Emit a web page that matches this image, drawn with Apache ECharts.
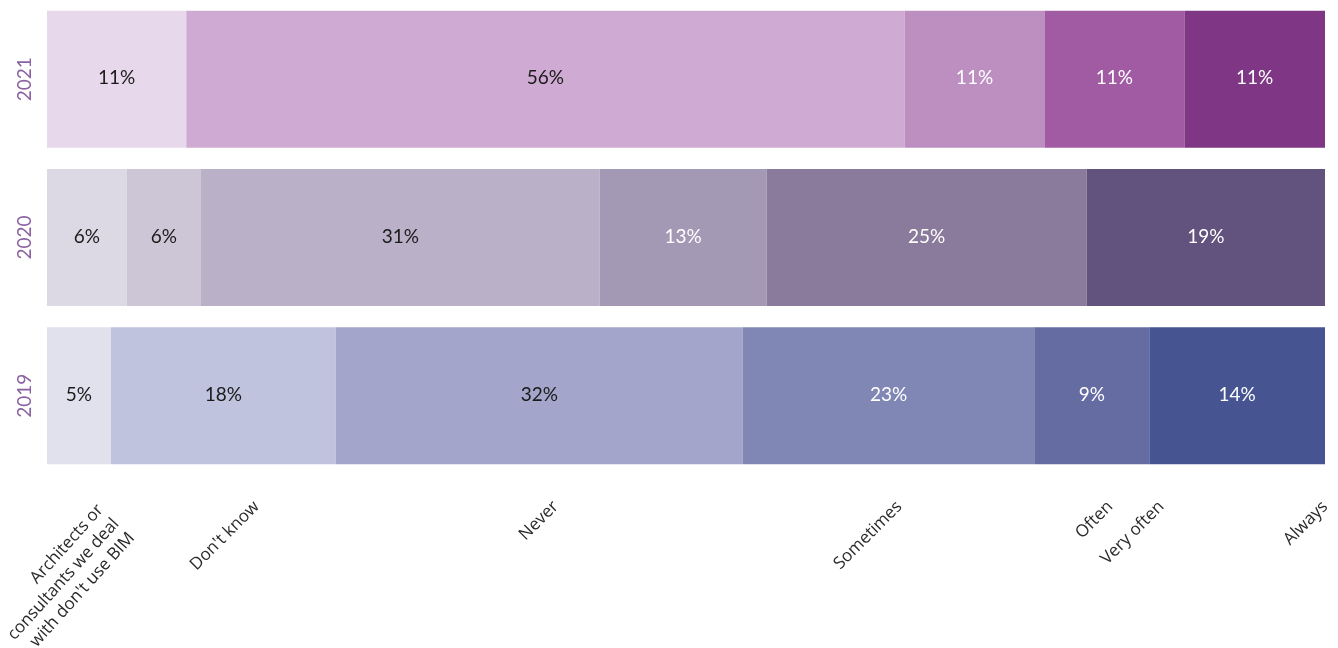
<!DOCTYPE html>
<html>
<head>
<meta charset="utf-8">
<script src="https://cdn.jsdelivr.net/npm/echarts@6/dist/echarts.min.js"></script>
<style>
html,body{margin:0;padding:0;background:#fff;}
#chart{width:1338px;height:648px;}
</style>
</head>
<body>
<div id="chart"></div>
<script>
// ---- data ----
const years = ['2019', '2020', '2021'];
const values2019 = [5.0, 17.6, 31.85, 22.8, 9.0, 13.75];
const values2020 = [6.25, 5.8, 31.2, 13.05, 25.05, 18.65];
const values2021 = [10.9, 56.2, 10.95, 10.95, 11.0];
const categoryLabels = ["Don't know", 'Never', 'Sometimes', 'Often', 'Very often', 'Always'];
const categoryLabelAt = [16.4, 39.8, 66.7, 83.2, 87.2, 100];
const firstCategoryLabel = "Architects or\nconsultants we deal\nwith don't use BIM";
const firstCategoryLabelAt = [5.4];

// ---- styles ----
const colors2019 = ['#e1e1ee', '#bfc3de', '#a3a6ca', '#8187b5', '#646ca2', '#465592'];
const colors2020 = ['#dcd9e4', '#cdc6d6', '#bab1c8', '#a499b4', '#8a7a9b', '#62527e'];
const colors2021 = ['#e7d8eb', '#cfaad2', '#bd8fc0', '#a15ba3', '#7f3684'];
const darkText2019 = [true, true, true, false, false, false];
const darkText2020 = [true, true, true, false, false, false];
const darkText2021 = [true, true, false, false, false];

const byYear = [
  { v: values2019, c: colors2019, d: darkText2019 },
  { v: values2020, c: colors2020, d: darkText2020 },
  { v: values2021, c: colors2021, d: darkText2021 }
];
const nSeg = Math.max(values2019.length, values2020.length, values2021.length);

const series = [];
for (let k = 0; k < nSeg; k++) {
  series.push({
    type: 'bar',
    stack: 'total',
    barWidth: 137,
    xAxisIndex: 0,
    yAxisIndex: 0,
    silent: true,
    data: byYear.map(function (y) {
      if (k >= y.v.length) return '-';
      return {
        value: y.v[k],
        itemStyle: { color: y.c[k] },
        label: { color: y.d[k] ? '#1a1a1a' : '#ffffff' }
      };
    }),
    label: {
      show: true,
      position: 'inside',
      fontFamily: 'Lato',
      fontSize: 19,
      offset: [0, -1],
      formatter: function (p) { return Math.round(p.value) + '%'; }
    }
  });
}

const gridBox = { left: 47, right: 13, top: 0, bottom: 173, containLabel: false, outerBoundsMode: 'none' };

const option = {
  animation: false,
  backgroundColor: '#ffffff',
  grid: [Object.assign({}, gridBox), Object.assign({}, gridBox)],
  xAxis: [
    {
      type: 'value', gridIndex: 0, min: 0, max: 100,
      axisLine: { show: false }, axisTick: { show: false }, splitLine: { show: false },
      axisLabel: {
        customValues: categoryLabelAt,
        showMaxLabel: true,
        rotate: 45,
        margin: 29,
        fontFamily: 'Open Sans',
        fontSize: 17,
        color: '#2a2a2a',
        formatter: function (v) {
          for (let i = 0; i < categoryLabelAt.length; i++) {
            if (Math.abs(categoryLabelAt[i] - v) < 1e-6) return categoryLabels[i];
          }
          return '';
        }
      }
    },
    {
      type: 'value', gridIndex: 1, min: 0, max: 100,
      axisLine: { show: false }, axisTick: { show: false }, splitLine: { show: false },
      axisLabel: {
        customValues: firstCategoryLabelAt,
        rotate: 48,
        margin: 46,
        fontFamily: 'Open Sans',
        fontSize: 17,
        lineHeight: 21,
        color: '#2a2a2a',
        formatter: function () { return firstCategoryLabel; }
      }
    }
  ],
  yAxis: [
    {
      type: 'category', gridIndex: 0, data: years,
      axisLine: { show: false }, axisTick: { show: false },
      axisLabel: { rotate: 90, margin: 13, fontFamily: 'Lato', fontSize: 19, color: '#8a62a2' }
    },
    {
      type: 'category', gridIndex: 1, data: years, show: false
    }
  ],
  series: series
};

const chart = echarts.init(document.getElementById('chart'), null, { renderer: 'canvas' });
chart.setOption(option);
</script>
</body>
</html>
